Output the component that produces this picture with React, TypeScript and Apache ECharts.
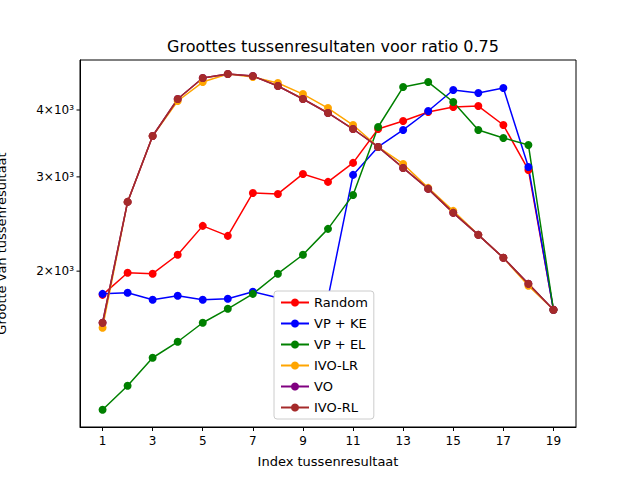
import React, { useEffect, useRef } from "react";
import * as echarts from "echarts";

const xs = [1,2,3,4,5,6,7,8,9,10,11,12,13,14,15,16,17,18,19];
const random = [1806,1986,1978,2146,2430,2328,2800,2788,3038,2936,3186,3686,3816,3966,4052,4069,3750,3091,1694];
const vpKe = [1814,1822,1768,1799,1768,1776,1830,1783,1665,1783,3026,3412,3671,3983,4359,4303,4396,3131,1694];
const vpEl = [1102,1222,1378,1476,1602,1701,1814,1978,2146,2399,2776,3718,4415,4511,4140,3671,3547,3442,1694];
const ivoLr = [1568,2694,3577,4158,4511,4669,4609,4492,4284,4034,3750,3412,3172,2861,2592,2338,2118,1878,1694];
const vo = [1602,2694,3577,4194,4590,4669,4629,4435,4194,3949,3686,3412,3118,2849,2570,2338,2118,1894,1694];
const ivoRl = [1602,2694,3577,4194,4590,4669,4629,4435,4194,3949,3686,3412,3118,2849,2570,2338,2118,1894,1694];
const xTicks = [1,3,5,7,9,11,13,15,17,19];
const yTicks = [2000,3000,4000];
const yTickLabels = ["2×10³","3×10³","4×10³"];

const seriesDefs = [
  { name: "Random", data: random, color: "#ff0000" },
  { name: "VP + KE", data: vpKe, color: "#0000ff" },
  { name: "VP + EL", data: vpEl, color: "#008000" },
  { name: "IVO-LR", data: ivoLr, color: "#ffa500" },
  { name: "VO", data: vo, color: "#800080" },
  { name: "IVO-RL", data: ivoRl, color: "#a52a2a" },
];

export default function App() {
  const ref = useRef<HTMLDivElement>(null);
  useEffect(() => {
    const chart = echarts.init(ref.current!, null, { renderer: "svg" });
    const font = "DejaVu Sans";
    chart.setOption({
      animation: false,
      textStyle: { fontFamily: font },
      title: { text: "Groottes tussenresultaten voor ratio 0.75", left: 328, top: 33, textAlign: "center",
        textStyle: { fontFamily: font, fontSize: 16, fontWeight: "normal", color: "#000" } },
      grid: { left: 80, right: 64, top: 60, bottom: 53, outerBoundsMode: "none", containLabel: false },
      legend: {
        orient: "vertical", left: 274, top: 291, itemGap: 8, itemWidth: 28, itemHeight: 10,
        backgroundColor: "#fff", borderColor: "#ccc", borderWidth: 1, borderRadius: 3, padding: [5, 6, 5, 6],
        textStyle: { fontFamily: font, fontSize: 13, color: "#000" },
        data: seriesDefs.map((s) => s.name),
      },
      xAxis: {
        type: "value", min: 0.1, max: 19.9,
        name: "Index tussenresultaat", nameLocation: "middle", nameGap: 28,
        nameTextStyle: { fontFamily: font, fontSize: 13, color: "#000" },
        axisLine: { show: true, lineStyle: { color: "#000" } },
        axisTick: { show: true, customValues: xTicks, length: 4, inside: false, lineStyle: { color: "#000" } },
        axisLabel: { customValues: xTicks, color: "#000", fontSize: 12, fontFamily: font },
        splitLine: { show: false },
      },
      yAxis: {
        type: "log", logBase: 10, min: 1023, max: 4960,
        name: "Grootte van tussenresultaat", nameLocation: "middle", nameGap: 72,
        nameTextStyle: { fontFamily: font, fontSize: 13, color: "#000" },
        axisLine: { show: true, lineStyle: { color: "#000" } },
        axisTick: { show: false }, axisLabel: { show: false }, splitLine: { show: false },
      },
      graphic: [
        { type: "rect", shape: { x: 80, y: 60, width: 496, height: 367 }, style: { fill: "none", stroke: "#000", lineWidth: 1 }, silent: true, z: 0 },
      ],
      series: [
        {
          type: "custom", silent: true, z: 1,
          data: yTicks.map((v, i) => [0.1, v, i]),
          renderItem: (params: any, api: any) => {
            const p = api.coord([api.value(0), api.value(1)]);
            const i = api.value(2);
            return {
              type: "group",
              children: [
                { type: "line", shape: { x1: p[0] - 3.5, y1: p[1], x2: p[0], y2: p[1] }, style: { stroke: "#000", lineWidth: 1 } },
                { type: "text", x: p[0] - 6, y: p[1], style: { text: yTickLabels[i], align: "right", verticalAlign: "middle", fontSize: 12, fontFamily: font, fill: "#000" } },
              ],
            };
          },
        },
        ...seriesDefs.map((s) => ({
          type: "line", name: s.name, data: xs.map((x, i) => [x, s.data[i]]),
          symbol: "circle", symbolSize: 8, showSymbol: true,
          lineStyle: { width: 1.5, color: s.color }, itemStyle: { color: s.color },
        })),
      ],
    });
    return () => chart.dispose();
  }, []);
  return <div ref={ref} style={{ width: 640, height: 480, position: "absolute", left: 0, top: 0 }} />;
}
